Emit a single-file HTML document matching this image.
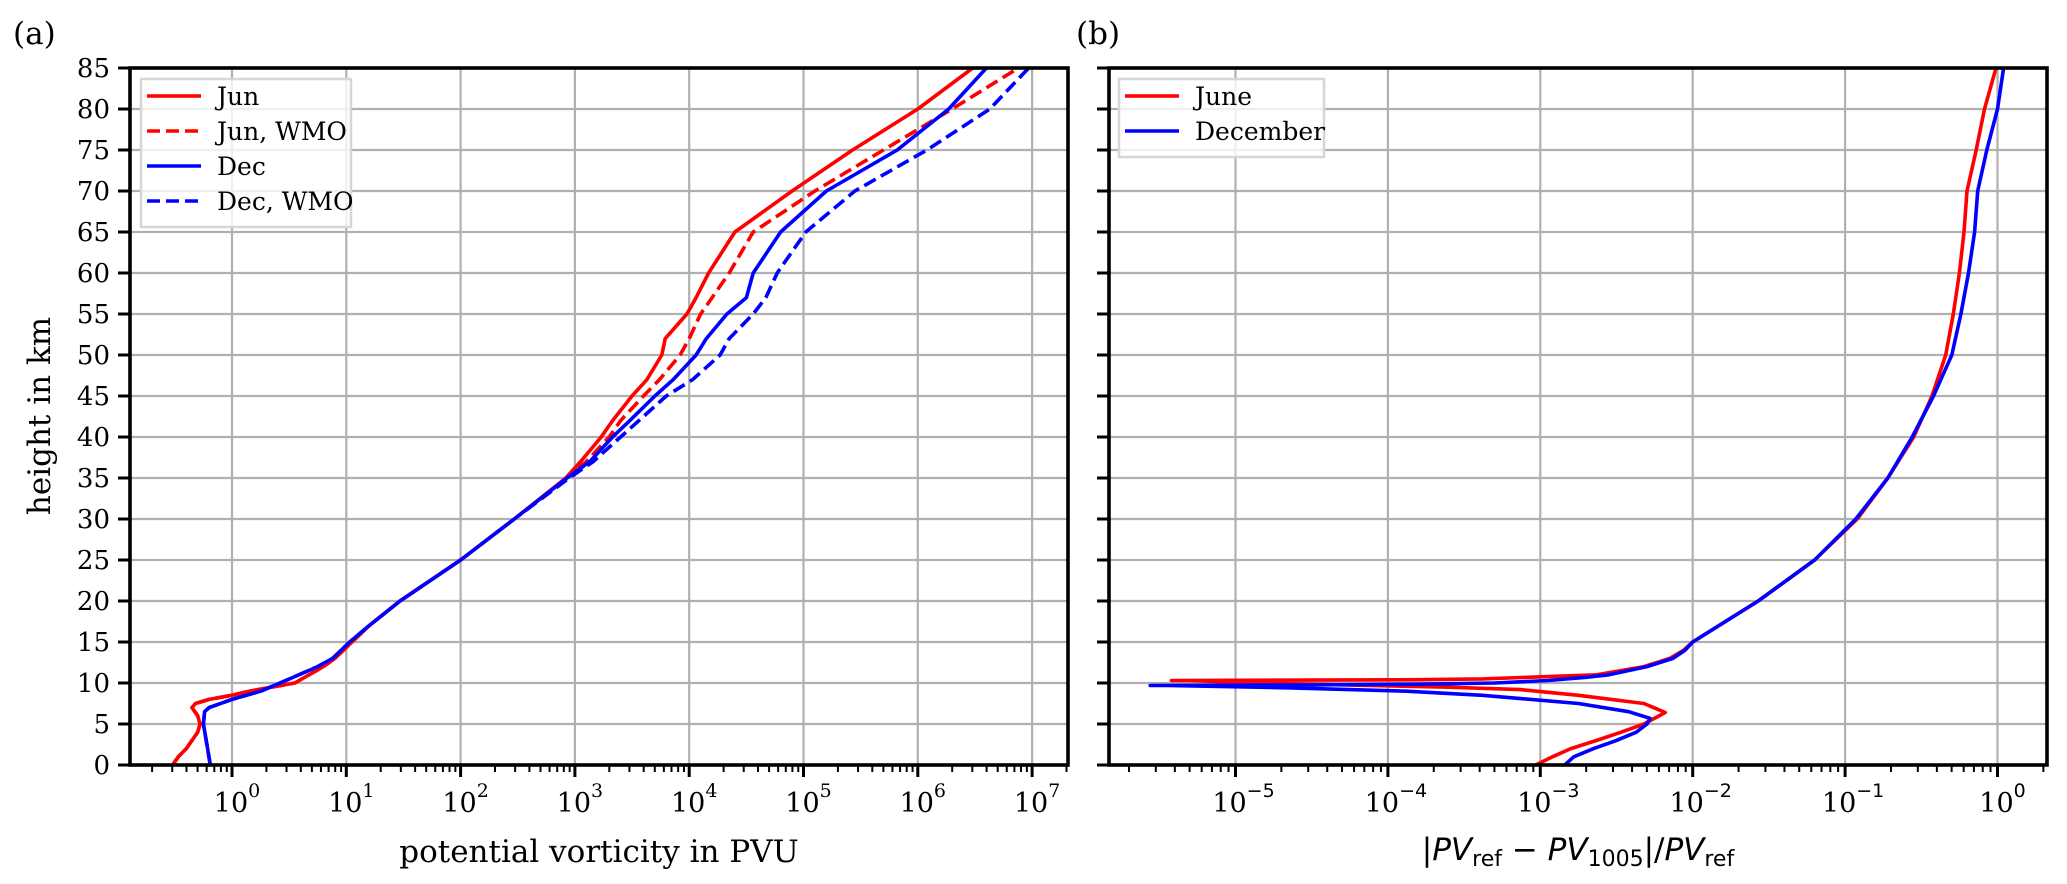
<!DOCTYPE html>
<html><head><meta charset="utf-8">
<style>
html,body{margin:0;padding:0;background:#fff;}
svg{display:block;}
text{font-family:"DejaVu Serif","Liberation Serif",serif;fill:#000;}
.math{font-family:"DejaVu Sans","Liberation Sans",sans-serif;}
</style></head>
<body>
<svg id="chart" width="2067" height="884" viewBox="0 0 2067 884" xmlns="http://www.w3.org/2000/svg">
<text x="13" y="44" font-size="31">(a)</text>
<text x="1076" y="44" font-size="31">(b)</text>
<g id="pa"></g>
<g id="pb"></g>
</svg>
<script>
// ---------- data ----------
const heightTicks = [0,5,10,15,20,25,30,35,40,45,50,55,60,65,70,75,80,85];
const pvDecadesA = [0,1,2,3,4,5,6,7];
const ratioDecadesB = [-5,-4,-3,-2,-1,0];
// Panel (a): log10(PV) at heights (km)
const junH   = [0,1,2,3,4,5,6,7,7.5,8,8.5,9,10,12,13,15,17,20,25,30,35,37,40,42,45,47,50,52,55,57,60,65,70,75,80,85];
const junPV  = [-0.52,-0.47,-0.4,-0.35,-0.3,-0.28,-0.3,-0.35,-0.32,-0.2,0,0.15,0.55,0.8,0.9,1.05,1.2,1.47,2.0,2.47,2.92,3.05,3.23,3.33,3.5,3.63,3.76,3.79,3.98,4.06,4.17,4.4,4.9,5.43,6.0,6.48];
const junWH  = [35,37,40,42,45,47,50,52,55,57,60,65,70,75,80,85];
const junWPV = [2.93,3.1,3.3,3.4,3.6,3.74,3.92,4.0,4.1,4.2,4.35,4.56,5.1,5.7,6.3,6.88];
const decH   = [0,2.5,5,6.5,7,8,9,10,12,13,15,17,20,25,30,35,37,40,42,45,47,50,52,55,57,60,65,70,75,80,85];
const decPV  = [-0.19,-0.22,-0.25,-0.24,-0.2,0,0.25,0.42,0.75,0.88,1.03,1.2,1.47,2.0,2.47,2.93,3.13,3.33,3.48,3.7,3.86,4.06,4.15,4.33,4.5,4.56,4.8,5.2,5.82,6.27,6.6];
const decWH  = [35,37,40,42,45,47,50,52,55,57,60,65,70,75,80,85];
const decWPV = [2.95,3.16,3.4,3.56,3.8,4.03,4.27,4.35,4.56,4.67,4.77,5.02,5.45,6.08,6.63,6.97];
// Panel (b): log10 relative difference
const junBH = [0,1,2,3,4,5,6.4,7.5,8.5,9.2,9.5,9.8,10.0,10.3,10.3,10.35,10.4,10.5,11,12,13,14,15,20,25,30,35,40,45,50,55,60,65,70,75,80,85];
const junBV = [-3.03,-2.92,-2.8,-2.63,-2.47,-2.32,-2.18,-2.32,-2.75,-3.13,-3.63,-4.38,-4.9,-5.3,-5.42,-4.5,-3.8,-3.38,-2.63,-2.32,-2.15,-2.06,-2.0,-1.57,-1.2,-0.92,-0.72,-0.55,-0.43,-0.34,-0.29,-0.25,-0.22,-0.2,-0.14,-0.085,-0.01];
const decBH = [0,1,2,3,4,5,5.7,6.5,7.5,8.5,9,9.4,9.7,9.7,9.75,9.85,10.0,10.3,10.7,11,12,13,14,15,20,25,30,35,40,45,50,55,60,65,70,75,80,85];
const decBV = [-2.84,-2.78,-2.65,-2.5,-2.37,-2.3,-2.28,-2.42,-2.75,-3.38,-3.88,-4.63,-5.45,-5.56,-4.6,-3.8,-3.3,-2.95,-2.7,-2.55,-2.3,-2.13,-2.05,-2.0,-1.57,-1.2,-0.93,-0.72,-0.56,-0.42,-0.3,-0.24,-0.19,-0.15,-0.13,-0.07,0,0.04];

// ---------- layout ----------
const NS="http://www.w3.org/2000/svg";
const TOP=68, BOT=765;
const yScale = h => BOT - (h/85)*(BOT-TOP);
const A={x0:130,x1:1068,ref:232,dec:114.3,log0:0};
const B={x0:1109,x1:2047,ref:1235.5,dec:152.4,log0:-5};
const xA = v => A.ref + (v-A.log0)*A.dec;
const xB = v => B.ref + (v-B.log0)*B.dec;
const LW=3.6;

function el(tag,attrs,parent){const e=document.createElementNS(NS,tag);for(const k in attrs)e.setAttribute(k,attrs[k]);parent.appendChild(e);return e;}

function axes(g,P,xf,decades,prefix,showYLabels){
  decades.forEach(d=>{
    const gl=el('line',{x1:xf(d),x2:xf(d),y1:TOP,y2:BOT,stroke:'#b0b0b0','stroke-width':2.2},g);
    
    
  });
  heightTicks.forEach(h=>{
    const gl=el('line',{x1:P.x0,x2:P.x1,y1:yScale(h),y2:yScale(h),stroke:'#b0b0b0','stroke-width':2.2},g);
    
    
  });
  const minLog=(P.x0-P.ref)/P.dec+P.log0, maxLog=(P.x1-P.ref)/P.dec+P.log0;
  for(let d=Math.floor(minLog);d<=Math.ceil(maxLog);d++){
    for(let m=2;m<=9;m++){
      const lv=d+Math.log10(m);
      if(lv<minLog||lv>maxLog)continue;
      const t=el('line',{x1:xf(lv),x2:xf(lv),y1:BOT,y2:BOT+7,stroke:'#000','stroke-width':2},g);
      
      
    }
  }
  decades.forEach(d=>{
    const t=el('line',{x1:xf(d),x2:xf(d),y1:BOT,y2:BOT+12,stroke:'#000','stroke-width':3},g);
    
    
    const tx=el('text',{x:xf(d)+5,y:812,'text-anchor':'middle','font-size':27},g);
    
    
    tx.textContent='10';
    if(prefix==='a'){
      const s=el('tspan',{dy:-15,'font-size':19},tx); s.textContent=String(d);
    } else {
      const s=el('tspan',{dy:-15,'font-size':19,'class':'math'},tx);
      if(d===0){s.textContent='0';} else {tx.setAttribute('x',xf(d)+8);s.textContent='\u2212'+String(-d);}
    }
  });
  heightTicks.forEach(h=>{
    const t=el('line',{x1:P.x0-12,x2:P.x0,y1:yScale(h),y2:yScale(h),stroke:'#000','stroke-width':3},g);
    
    
    if(showYLabels){
      const tx=el('text',{x:P.x0-20,y:yScale(h)+9,'text-anchor':'end','font-size':26},g);
      
      
      tx.textContent=String(h);
    }
  });
}

function curve(g,xf,H,V,color,dash,name){
  const pts=H.map((h,i)=>xf(V[i]).toFixed(1)+','+yScale(h).toFixed(1)).join(' ');
  const p=el('polyline',{points:pts,fill:'none',stroke:color,'stroke-width':LW,'stroke-linejoin':'round'},g);
  if(dash)p.setAttribute('stroke-dasharray','13,6');
  
  
}

function frame(g,P,name){
  const r=el('rect',{x:P.x0,y:TOP,width:P.x1-P.x0,height:BOT-TOP,fill:'none',stroke:'#000','stroke-width':3.6},g);
  
  
}

function legend(g,x,y,w,entries,name){
  const lg=el('g',{},g);
  
  
  const r=el('rect',{x:x,y:y,width:w,height:entries.length*35+8,fill:'rgba(255,255,255,0.8)',stroke:'#d6d6d6','stroke-width':2.5},lg);
  
  
  entries.forEach((e,i)=>{
    const cy=y+17+i*35;
    const l=el('line',{x1:x+6,x2:x+60,y1:cy,y2:cy,stroke:e[1],'stroke-width':LW},lg);
    if(e[2])l.setAttribute('stroke-dasharray','13,6');
    
    
    const t=el('text',{x:x+76,y:cy+9,'font-size':25},lg);
    t.textContent=e[0];
    
    
  });
}

const ga=document.getElementById('pa'), gb=document.getElementById('pb');
axes(ga,A,xA,pvDecadesA,'a',true);
axes(gb,B,xB,ratioDecadesB,'b',false);

const clipA=el('clipPath',{id:'ca'},ga); el('rect',{x:A.x0,y:TOP,width:A.x1-A.x0,height:BOT-TOP},clipA);
const clipB=el('clipPath',{id:'cb'},gb); el('rect',{x:B.x0,y:TOP,width:B.x1-B.x0,height:BOT-TOP},clipB);
const sa=el('g',{'clip-path':'url(#ca)'},ga);  
const sb=el('g',{'clip-path':'url(#cb)'},gb);  

const jwH=junH.filter(h=>h<35).concat(junWH), jwV=junPV.filter((v,i)=>junH[i]<35).concat(junWPV);
const dwH=decH.filter(h=>h<35).concat(decWH), dwV=decPV.filter((v,i)=>decH[i]<35).concat(decWPV);
curve(sa,xA,jwH,jwV,'#ff0000',true,'jun-wmo-line');
curve(sa,xA,dwH,dwV,'#0000ff',true,'dec-wmo-line');
curve(sa,xA,junH,junPV,'#ff0000',false,'jun-line');
curve(sa,xA,decH,decPV,'#0000ff',false,'dec-line');
curve(sb,xB,junBH,junBV,'#ff0000',false,'june-line');
curve(sb,xB,decBH,decBV,'#0000ff',false,'december-line');

frame(ga,A,'a-axes-frame'); frame(gb,B,'b-axes-frame');

legend(ga,141,79,210,[['Jun','#ff0000',false],['Jun, WMO','#ff0000',true],['Dec','#0000ff',false],['Dec, WMO','#0000ff',true]],'a-legend');
legend(gb,1119,79,205,[['June','#ff0000',false],['December','#0000ff',false]],'b-legend');

let t=el('text',{x:(A.x0+A.x1)/2,y:862,'text-anchor':'middle','font-size':31},ga);
t.textContent='potential vorticity in PVU';
 
t=el('text',{x:0,y:0,'text-anchor':'middle','font-size':31,transform:'translate(50,416) rotate(-90)'},ga);
t.textContent='height in km';
 
t=el('text',{x:(B.x0+B.x1)/2,y:860,'text-anchor':'middle','font-size':31,'class':'math'},gb);
 
t.innerHTML='|<tspan font-style="italic">PV</tspan><tspan font-size="22" dy="6">ref</tspan><tspan dy="-6"> \u2212 </tspan><tspan font-style="italic">PV</tspan><tspan font-size="22" dy="6">1005</tspan><tspan dy="-6">|/</tspan><tspan font-style="italic">PV</tspan><tspan font-size="22" dy="6">ref</tspan>';
</script>
</body></html>
